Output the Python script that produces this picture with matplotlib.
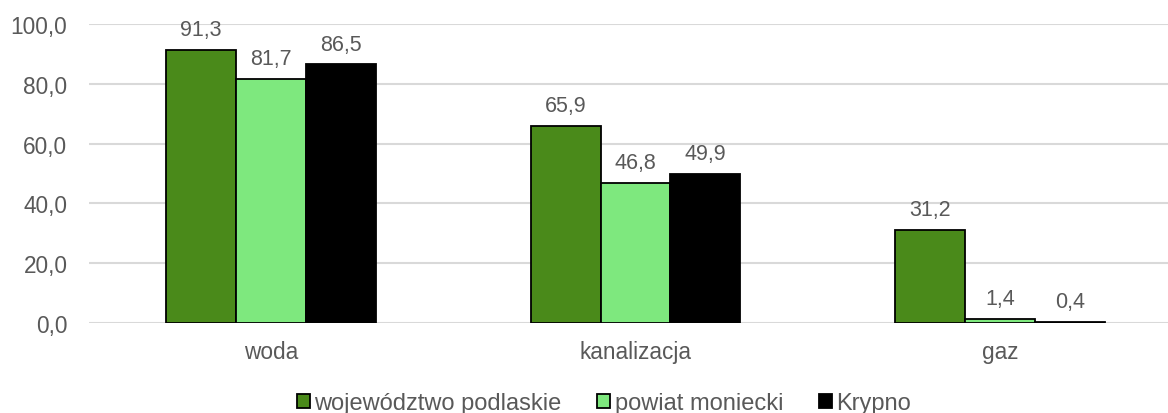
import numpy as np
import matplotlib.pyplot as plt

plt.rcParams["font.family"] = ["Liberation Sans", "DejaVu Sans"]

categories = ["woda", "kanalizacja", "gaz"]
series_names = ["województwo podlaskie", "powiat moniecki", "Krypno"]
wojewodztwo = [91.3, 65.9, 31.2]
powiat = [81.7, 46.8, 1.4]
krypno = [86.5, 49.9, 0.4]
yticks = [0, 20, 40, 60, 80, 100]

colors = ["#4a8a1a", "#7ee87e", "#000000"]
text_col = "#595959"

fig = plt.figure(figsize=(11.68, 4.14), dpi=100)
W, H = 1168, 414
ax = fig.add_axes([89 / W, 90 / H, 1093 / W, 299 / H])

x = np.arange(len(categories))
w = 0.192
for i, (vals, name, c) in enumerate(zip([wojewodztwo, powiat, krypno], series_names, colors)):
    pos = x + (i - 1) * w
    ax.bar(pos, vals, width=w, color=c, edgecolor="black", linewidth=1.3,
           label=name, zorder=3)
    for p, v in zip(pos, vals):
        ax.annotate(f"{v:.1f}".replace(".", ","), (p, v), xytext=(0, 7),
                    textcoords="offset points", ha="center", va="bottom",
                    fontsize=15.5, color=text_col)

ax.set_xlim(-0.5, 2.5)
ax.set_ylim(0, 100)
ax.set_yticks(yticks)
ax.set_yticklabels([f"{t:.1f}".replace(".", ",") for t in yticks])
ax.set_xticks(x)
ax.set_xticklabels(categories)
ax.tick_params(axis="both", length=0, labelsize=16.3, labelcolor=text_col)
ax.tick_params(axis="x", pad=12)
ax.tick_params(axis="y", pad=15.5)
ax.grid(axis="y", color="#d9d9d9", linewidth=1.5, zorder=0)
ax.set_axisbelow(True)
for s in ax.spines.values():
    s.set_visible(False)

fig.legend(loc="center", bbox_to_anchor=(604 / W, 1 - 404 / H), ncol=3,
           frameon=False, fontsize=17, labelcolor=text_col,
           handlelength=0.55, handleheight=0.55, handletextpad=0.2,
           columnspacing=1.5, borderaxespad=0, borderpad=0)

fig.savefig("out.png", dpi=100)
